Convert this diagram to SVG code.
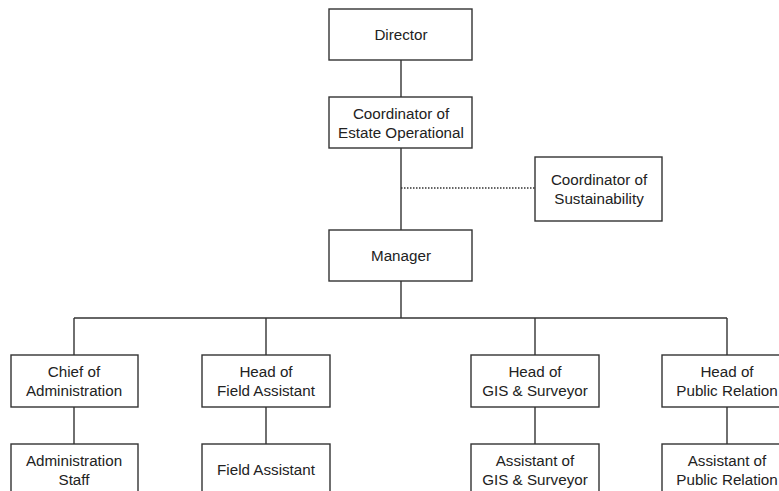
<svg xmlns="http://www.w3.org/2000/svg" width="779" height="491" viewBox="0 0 779 491">
<style>
.box{fill:#fff;stroke:#333;stroke-width:1.4}
.ln{stroke:#333;stroke-width:1.4;fill:none}
.dot{stroke:#333;stroke-width:1.4;stroke-dasharray:1.5 1.5;fill:none}
text{font-family:"Liberation Sans",Arial,sans-serif;font-size:15.2px;fill:#222;text-anchor:middle;dominant-baseline:central}
</style>
<rect width="779" height="491" fill="#fff"/>
<g id="connectors">
<line class="ln" x1="401" y1="60" x2="401" y2="97"/>
<line class="ln" x1="401" y1="148" x2="401" y2="230"/>
<line class="dot" x1="401" y1="188" x2="535" y2="188"/>
<line class="ln" x1="401" y1="281" x2="401" y2="318"/>
<line class="ln" x1="74" y1="318" x2="727" y2="318"/>
<line class="ln" x1="74" y1="318" x2="74" y2="355"/>
<line class="ln" x1="266" y1="318" x2="266" y2="355"/>
<line class="ln" x1="535" y1="318" x2="535" y2="355"/>
<line class="ln" x1="727" y1="318" x2="727" y2="355"/>
<line class="ln" x1="74" y1="407" x2="74" y2="444"/>
<line class="ln" x1="266" y1="407" x2="266" y2="444"/>
<line class="ln" x1="535" y1="407" x2="535" y2="444"/>
<line class="ln" x1="727" y1="407" x2="727" y2="444"/>
</g>
<g id="director"><rect class="box" x="329" y="9" width="143" height="51"/><text x="401" y="34">Director</text></g>
<g id="coord-estate"><rect class="box" x="329" y="97" width="143" height="51"/><text x="401" y="113">Coordinator of</text><text x="401" y="132">Estate Operational</text></g>
<g id="coord-sust"><rect class="box" x="535" y="157" width="127" height="64"/><text x="599" y="179">Coordinator of</text><text x="599" y="198">Sustainability</text></g>
<g id="manager"><rect class="box" x="329" y="230" width="143" height="51"/><text x="401" y="255">Manager</text></g>
<g id="chief-admin"><rect class="box" x="11" y="355" width="127" height="52"/><text x="74" y="371">Chief of</text><text x="74" y="390">Administration</text></g>
<g id="head-field"><rect class="box" x="202" y="355" width="128" height="52"/><text x="266" y="371">Head of</text><text x="266" y="390">Field Assistant</text></g>
<g id="head-gis"><rect class="box" x="471" y="355" width="128" height="52"/><text x="535" y="371">Head of</text><text x="535" y="390">GIS &amp; Surveyor</text></g>
<g id="head-pr"><rect class="box" x="662" y="355" width="130" height="52"/><text x="727" y="371">Head of</text><text x="727" y="390">Public Relation</text></g>
<g id="admin-staff"><rect class="box" x="11" y="444" width="127" height="60"/><text x="74" y="460">Administration</text><text x="74" y="479">Staff</text></g>
<g id="field-assistant"><rect class="box" x="202" y="444" width="128" height="60"/><text x="266" y="469">Field Assistant</text></g>
<g id="assist-gis"><rect class="box" x="471" y="444" width="128" height="60"/><text x="535" y="460">Assistant of</text><text x="535" y="479">GIS &amp; Surveyor</text></g>
<g id="assist-pr"><rect class="box" x="662" y="444" width="130" height="60"/><text x="727" y="460">Assistant of</text><text x="727" y="479">Public Relation</text></g>
</svg>
